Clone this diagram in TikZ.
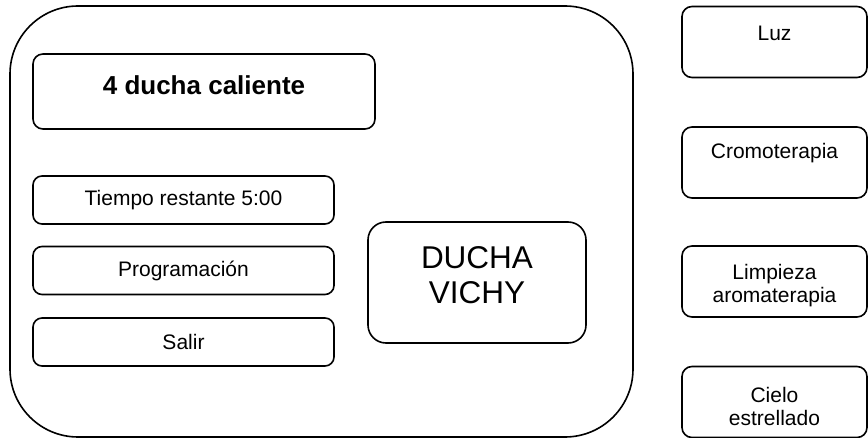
\documentclass[tikz,border=0pt]{standalone}
\usepackage{fontspec}
\setmainfont{Liberation Sans}
\usetikzlibrary{positioning}

\tikzset{
  screen/.style={draw,rectangle,line width=1.6pt,rounded corners=68pt,
    minimum width=623pt,minimum height=431pt},
  menubox/.style={draw,rectangle,line width=1.6pt,rounded corners=9pt,
    minimum width=301pt,minimum height=48pt,inner sep=0pt,
    font=\fontsize{21}{25}\selectfont},
  sidebox/.style={draw,rectangle,line width=1.6pt,rounded corners=10pt,
    minimum width=185pt,minimum height=71pt,inner sep=0pt},
  sidetext/.style={align=center,inner sep=0pt,font=\fontsize{21}{23}\selectfont}
}

\begin{document}
\begin{tikzpicture}[x=1pt,y=-1pt]

  \useasboundingbox (0,0) rectangle (868,438);

  % main screen
  \node [screen] (screen) at (321.5,221.5) {};

  \node [draw,rectangle,line width=1.6pt,rounded corners=10pt,
    minimum width=342pt,minimum height=75pt,
    label={[name=titlelab,inner sep=0pt,yshift=6pt,
      font=\bfseries\fontsize{26}{30}\selectfont]center:4 ducha caliente}] (title) at (204,91.5) {};

  \node [menubox] (tiempo) at (183.5,200) {Tiempo restante 5:00};
  \node [menubox] (prog)   at (183.5,270.5) {Programación};
  \node [menubox] (salir)  at (183.5,342) {Salir};

  \node [draw,rectangle,line width=1.6pt,rounded corners=18pt,
    minimum width=218pt,minimum height=121pt,
    label={[name=duchalab,align=center,inner sep=0pt,yshift=7pt,
      font=\fontsize{31.5}{35}\selectfont]center:DUCHA\\VICHY}] (ducha) at (477,282.5) {};

  % side options
  \node [sidebox,label={[sidetext,yshift=9pt]center:Luz}] (luz) at (774.5,42) {};
  \node [sidebox,label={[sidetext,yshift=9.5pt]center:Cromoterapia}] (cromo) at (774.5,162.5) {};
  \node [sidebox,label={[sidetext,yshift=-4.5pt]center:Limpieza\\aromaterapia}] (limpieza) at (774.5,281.5) {};
  \node [sidebox,label={[sidetext,yshift=-4.5pt]center:Cielo\\estrellado}] (cielo) at (774.5,402) {};

\end{tikzpicture}
\end{document}
